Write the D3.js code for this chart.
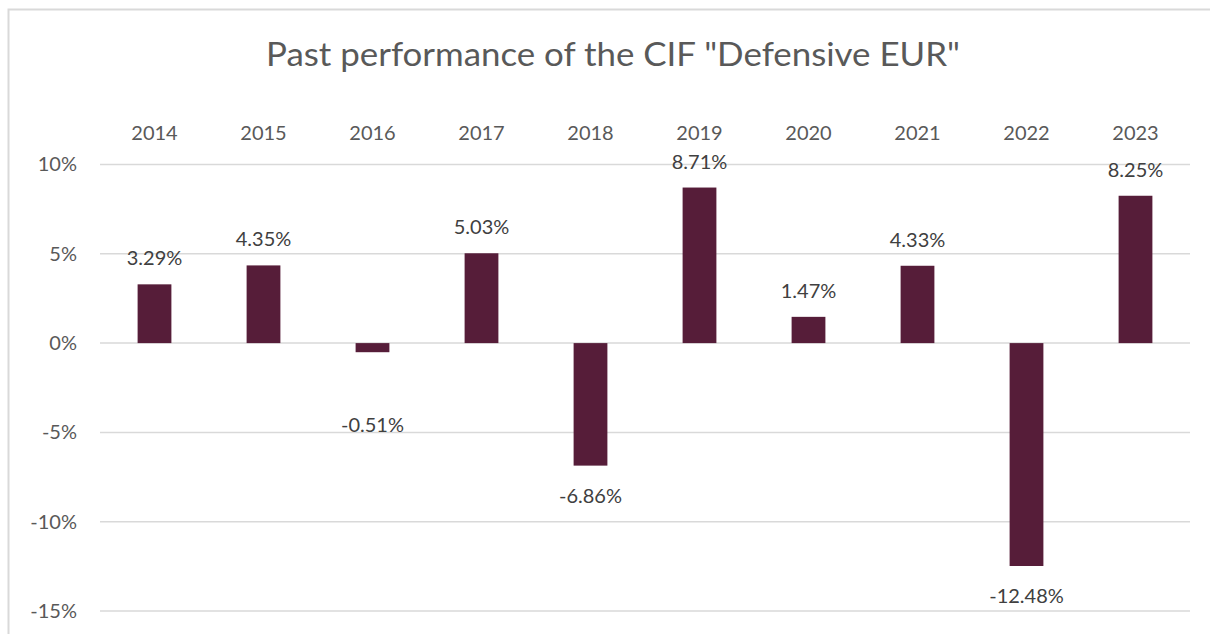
<!DOCTYPE html>
<html><head><meta charset="utf-8">
<script src="https://cdn.jsdelivr.net/npm/d3@7"></script>
<style>body{margin:0;background:#fff;}svg{display:block;font-family:Lato,"Open Sans",sans-serif;}</style>
</head><body>
<svg id="chart" width="1210" height="634"></svg>
<script>
const years = ["2014","2015","2016","2017","2018","2019","2020","2021","2022","2023"];
const returns = [3.29, 4.35, -0.51, 5.03, -6.86, 8.71, 1.47, 4.33, -12.48, 8.25];
const labelTexts = ["3.29%","4.35%","-0.51%","5.03%","-6.86%","8.71%","1.47%","4.33%","-12.48%","8.25%"];
// value at which a label is anchored when it was moved away from its bar (null = default)
const labelAnchor = [null, null, -4.6, null, null, null, null, null, null, null];
const yTicks = [-15, -10, -5, 0, 5, 10];
const title = 'Past performance of the CIF "Defensive EUR"';

const svg = d3.select("#chart");
const W = 1210, H = 634;
const m = {left: 100, right: 20, top: 164.5, bottom: 23};
const x = d3.scaleBand().domain(years).range([m.left, W - m.right]).paddingInner(0.69).paddingOuter(0.345);
const y = d3.scaleLinear().domain([-15, 10]).range([611, 164.5]);

// chart border
svg.append("path").attr("d", `M8.5,${H} V9.5 H${W}`).attr("fill","none").attr("stroke","#d9d9d9").attr("stroke-width",2);

svg.append("text").attr("x", 613).attr("y", 66).attr("text-anchor","middle")
  .attr("font-size", 33).attr("fill", "#595959")
  .attr("textLength", 694).attr("lengthAdjust", "spacingAndGlyphs").text(title);

// gridlines
svg.append("g").selectAll("line").data(yTicks).join("line")
  .attr("x1", m.left).attr("x2", W - m.right)
  .attr("y1", d => y(d)).attr("y2", d => y(d))
  .attr("stroke", "#d9d9d9").attr("stroke-width", 1.5);

// y axis labels
const yAxis = d3.axisLeft(y).tickValues(yTicks).tickSize(0).tickPadding(0).tickFormat(d => d + "%");
const ga = svg.append("g").attr("transform", "translate(77,0)").call(yAxis);
ga.select(".domain").remove();
ga.selectAll("text").attr("font-size", 20).attr("fill", "#595959").attr("font-family","Lato,sans-serif");

// x axis labels at top
const xAxis = d3.axisTop(x).tickSize(0).tickPadding(0);
const gx = svg.append("g").attr("transform", "translate(0,140)").call(xAxis);
gx.select(".domain").remove();
gx.selectAll("text").attr("font-size", 20).attr("fill", "#595959").attr("font-family","Lato,sans-serif");

// bars
svg.append("g").selectAll("rect").data(returns).join("rect")
  .attr("x", (d,i) => x(years[i]))
  .attr("width", x.bandwidth())
  .attr("y", d => y(Math.max(0, d)))
  .attr("height", d => Math.abs(y(d) - y(0)))
  .attr("fill", "#561d39");

// value labels
svg.append("g").selectAll("text").data(returns).join("text")
  .attr("x", (d,i) => x(years[i]) + x.bandwidth()/2)
  .attr("y", (d,i) => {
    if (labelAnchor[i] !== null) return y(labelAnchor[i]) + 7;
    return d >= 0 ? y(d) - 19 : y(d) + 37;
  })
  .attr("text-anchor","middle").attr("font-size", 20).attr("fill","#404040")
  .text((d,i) => labelTexts[i]);
</script>
</body></html>
